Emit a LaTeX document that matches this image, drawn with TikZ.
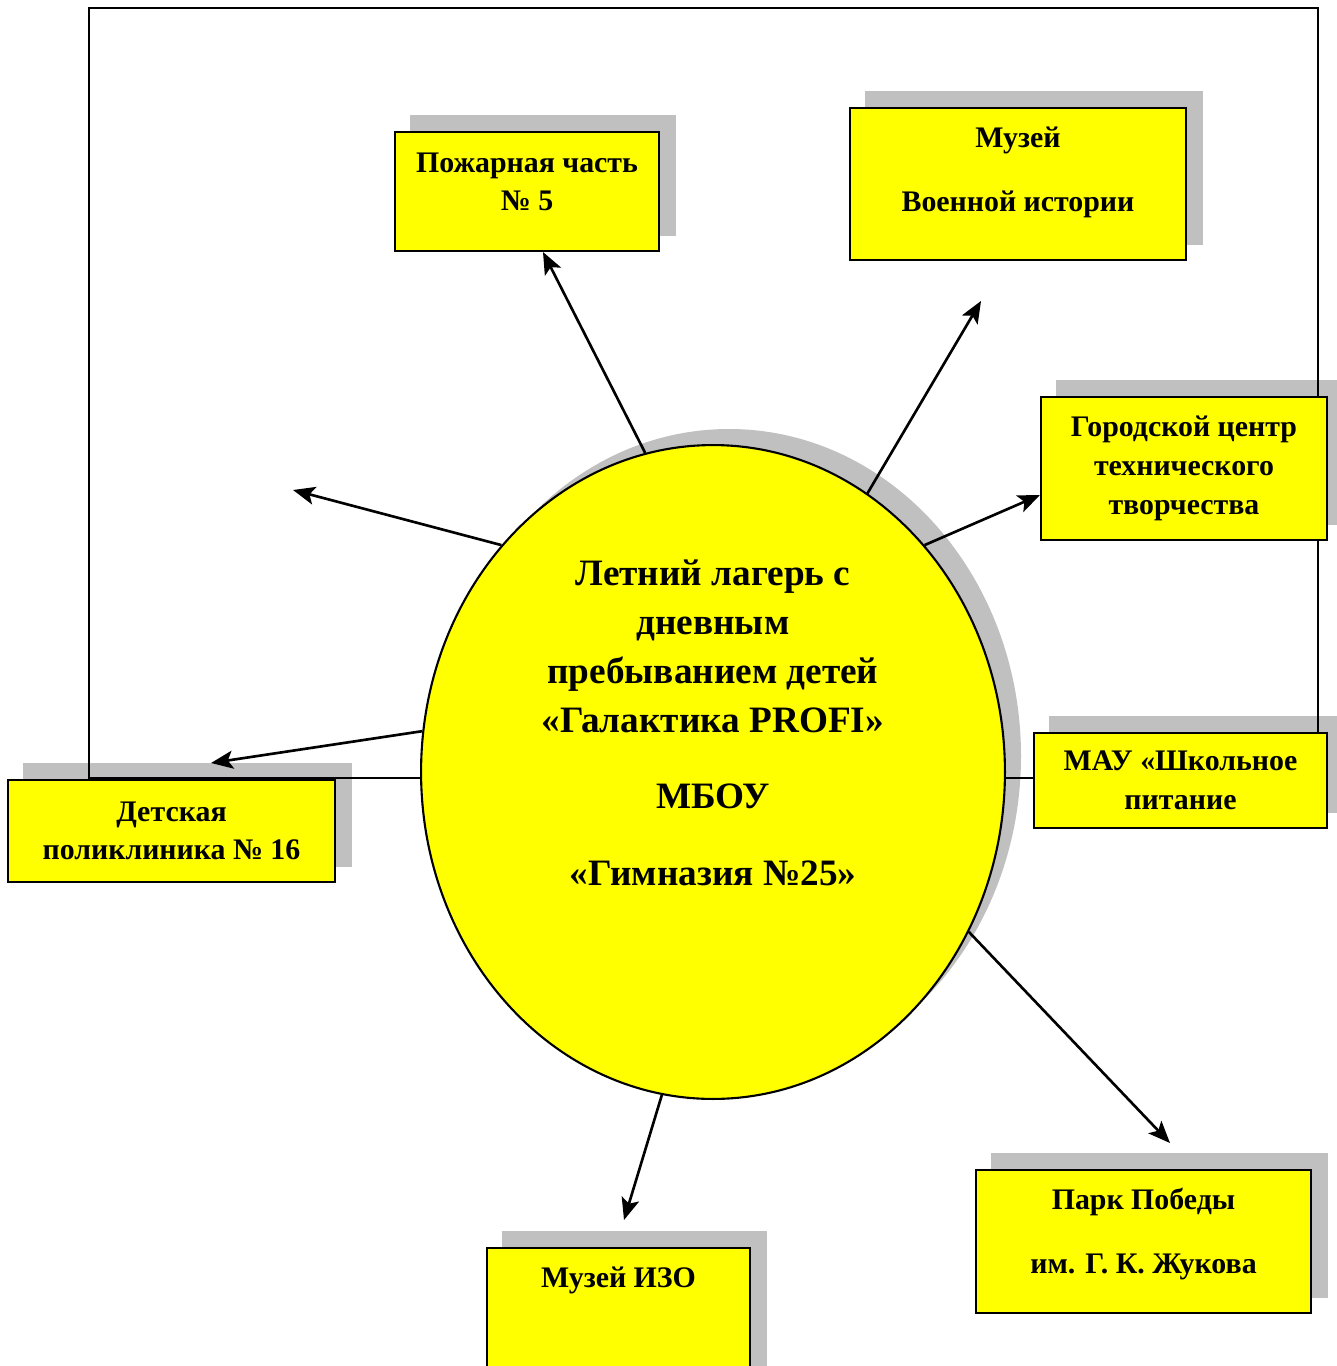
\documentclass[tikz,border=0pt]{standalone}
\usepackage{fontspec}
\setmainfont{Liberation Serif}
\usepackage{xcolor}
\definecolor{boxyellow}{HTML}{FFFF00}
\definecolor{shadowgray}{RGB}{192,192,192}
\usetikzlibrary{arrows.meta, shapes.geometric}
\pgfdeclarelayer{shadow}
\pgfdeclarelayer{frame}
\pgfsetlayers{shadow,frame,main}

\begin{document}
\begin{tikzpicture}[x=0.02cm, y=-0.02cm,
    every node/.style={font=\bfseries},
    place/.style={draw, line width=1.2pt, fill=boxyellow, align=center, inner sep=0pt,
      font=\bfseries\fontsize{17}{22}\selectfont},
    link/.style={-{Stealth[length=0.44cm, width=0.36cm, inset=0.1cm]}, line width=1.5pt}]
    \useasboundingbox (0,0) rectangle (1336,1366);

    % Camp (centre)
    \node[draw, ellipse, line width=1.2pt, fill=boxyellow, inner sep=0pt, minimum width=11.68cm,
      minimum height=13.08cm, align=center, font=\bfseries\fontsize{21.2}{27.9}\selectfont]
      (camp) at (713,772) {Летний лагерь с\\дневным\\пребыванием детей\\«Галактика PROFI»\\[0.54cm]МБОУ\\[0.56cm]«Гимназия №25»\\[0.98cm]~};

    % Partners
    \node[place, minimum width=5.28cm, minimum height=2.38cm] (fire) at (527,191.5) {Пожарная часть\\№ 5\\[-0.38cm]~};
    \node[place, minimum width=6.72cm, minimum height=3.04cm] (war) at (1018,184) {Музей\\[0.52cm]Военной истории\\[-0.18cm]~};
    \node[place, minimum width=5.72cm, minimum height=2.86cm] (tech) at (1184,468.5) {Городской центр\\технического\\творчества};
    \node[place, minimum width=5.86cm, minimum height=1.9cm] (food) at (1180.5,780.5) {МАУ «Школьное\\питание};
    \node[place, minimum width=6.54cm, minimum height=2.04cm] (clinic) at (171.5,831) {Детская\\поликлиника № 16};
    \node[place, anchor=north, minimum width=5.26cm, inner ysep=0.38cm, text depth=2.4cm] (izo) at (618.5,1247) {Музей ИЗО};
    \node[place, minimum width=6.7cm, minimum height=2.86cm] (park) at (1143.5,1241.5) {Парк Победы\\[0.52cm]им. Г. К. Жукова\\[-0.34cm]~};

    % Free arrow ends
    \coordinate (warpt) at (981,301);
    \coordinate (leftpt) at (293,490);
    \coordinate (clinicpt) at (211,763);
    \coordinate (izopt) at (624,1220);
    \coordinate (parkpt) at (1170,1143);

    % Arrows
    \draw[link] (camp.102.8) -- ([xshift=0.32cm]fire.south);
    \draw[link] (camp.61.3) -- (warpt);
    \draw[link] (camp.47) -- ([yshift=-0.53cm]tech.west);
    \draw[link] (camp.133.8) -- (leftpt);
    \draw[link] (camp.172) -- (clinicpt);
    \draw[link] (camp.261.3) -- (izopt);
    \draw[link] (camp.-32.8) -- (parkpt);

    % Frame
    \begin{pgfonlayer}{frame}
      \draw[line width=1.1pt] (89,8) rectangle (1318,778);
    \end{pgfonlayer}

    % Shadows
    \begin{pgfonlayer}{shadow}
      \foreach \n in {fire,war,tech,food,clinic,izo,park}
        \fill[shadowgray] ([shift={(16,-16)}]\n.south west) rectangle ([shift={(16,-16)}]\n.north east);
      \fill[shadowgray] ([shift={(16,-16)}]camp.center) ellipse [x radius=292, y radius=327];
    \end{pgfonlayer}
  \end{tikzpicture}
\end{document}
